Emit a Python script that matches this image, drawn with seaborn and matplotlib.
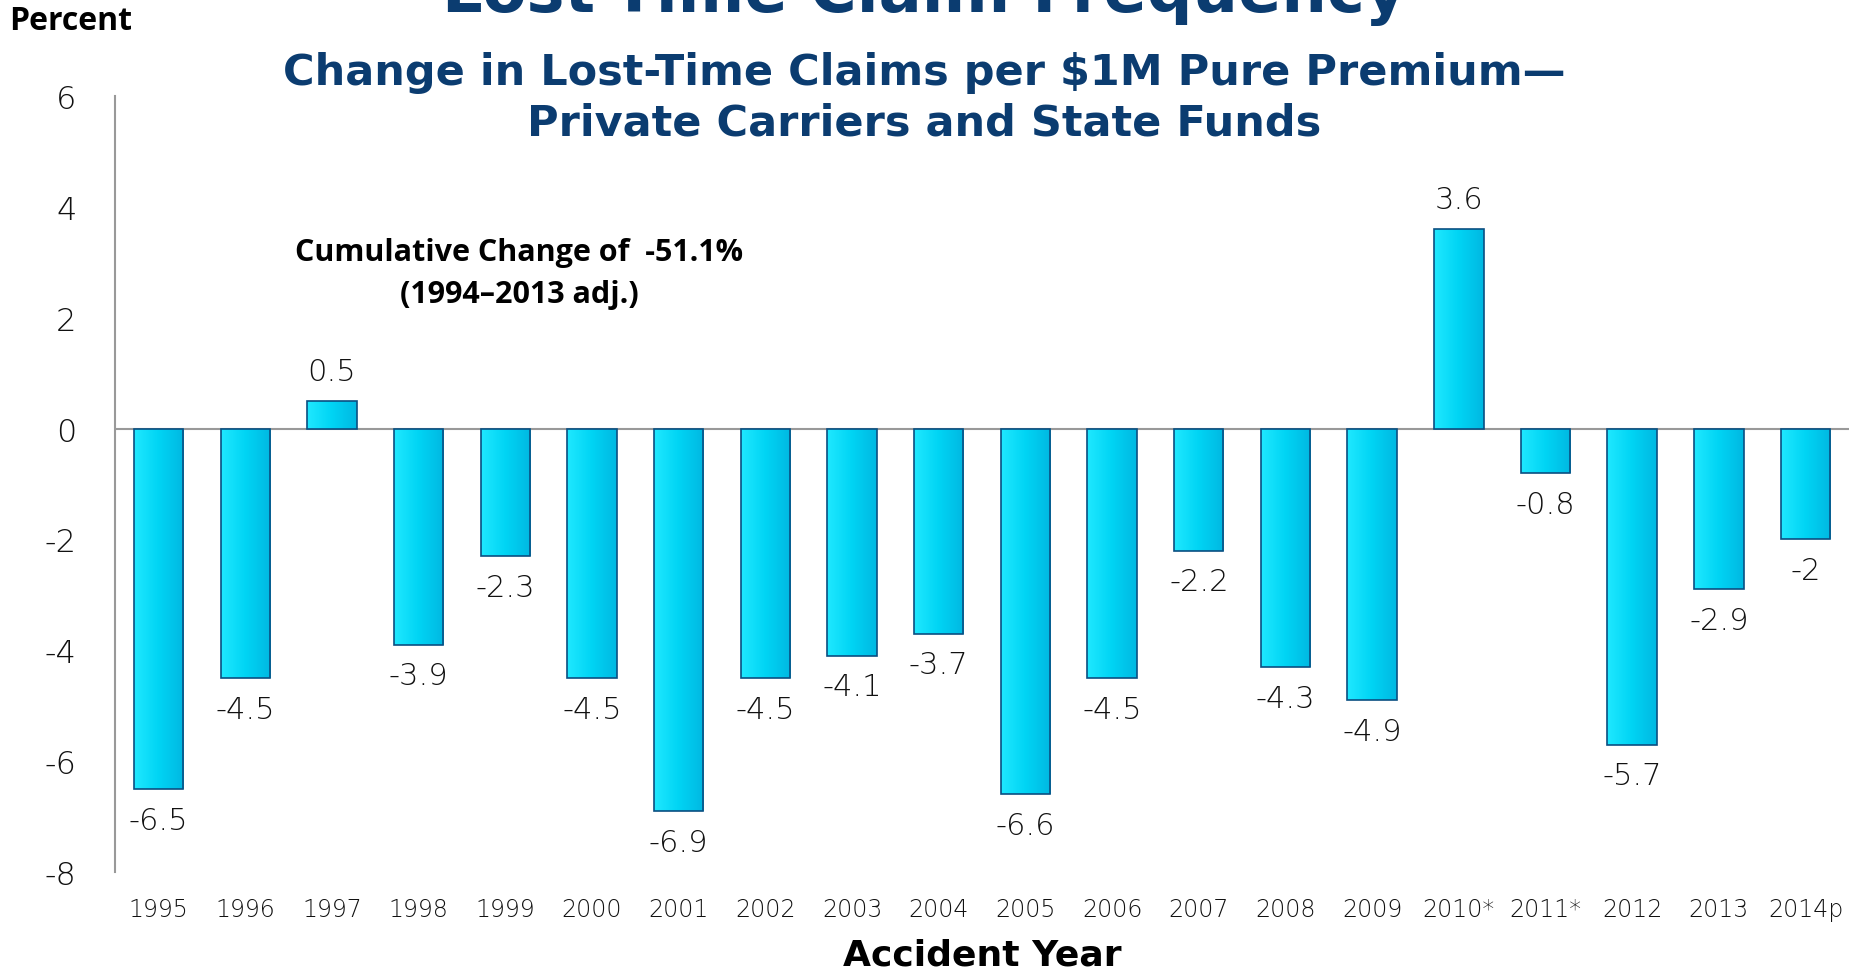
import numpy as np
import pandas as pd
import seaborn as sns
import matplotlib.pyplot as plt
from matplotlib.colors import LinearSegmentedColormap

# Data
years = ['1995', '1996', '1997', '1998', '1999', '2000', '2001', '2002', '2003', '2004',
         '2005', '2006', '2007', '2008', '2009', '2010*', '2011*', '2012', '2013', '2014p']
changes = [-6.5, -4.5, 0.5, -3.9, -2.3, -4.5, -6.9, -4.5, -4.1, -3.7,
           -6.6, -4.5, -2.2, -4.3, -4.9, 3.6, -0.8, -5.7, -2.9, -2.0]
value_labels = ['-6.5', '-4.5', '0.5', '-3.9', '-2.3', '-4.5', '-6.9', '-4.5', '-4.1', '-3.7',
                '-6.6', '-4.5', '-2.2', '-4.3', '-4.9', '3.6', '-0.8', '-5.7', '-2.9', '-2']
yticks = [-8, -6, -4, -2, 0, 2, 4, 6]

df = pd.DataFrame({'year': years, 'change': changes})

sns.set_style('white')
plt.rcParams['font.family'] = ['DejaVu Sans']

navy = '#0B3C70'
txt = '#111111'
num_font = ['DejaVu Sans']
narrow = ['Liberation Sans Narrow', 'Open Sans', 'DejaVu Sans']

fig = plt.figure(figsize=(18.6, 9.7), dpi=100)
ax = fig.add_axes([0.062, 0.1, 0.932, 0.8])

sns.barplot(x='year', y='change', data=df, order=years, color='#08D2F0',
            width=0.57, edgecolor='#0A4F82', linewidth=1.2, ax=ax, zorder=3)

# cyan gradient inside each bar
cmap = LinearSegmentedColormap.from_list('cy', ['#1FE8FF', '#00D4F4', '#00B8E2'])
grad = np.linspace(0, 1, 64).reshape(1, -1)
for p in ax.patches:
    x0, y0 = p.get_x(), p.get_y()
    w, h = p.get_width(), p.get_height()
    im = ax.imshow(grad, extent=[x0, x0 + w, min(y0, y0 + h), max(y0, y0 + h)],
                   cmap=cmap, aspect='auto', zorder=3.5)
    im.set_clip_path(p)
    p.set_zorder(4)
    p.set_facecolor('none')

ax.set_xlim(-0.5, 19.5)
ax.set_ylim(-8, 6)
ax.set_yticks(yticks)
ax.set_yticklabels([str(t) for t in yticks], fontsize=23, color=txt,
                   family=num_font, fontweight='light')
ax.set_xticks(range(len(years)))
ax.set_xticklabels(years, fontsize=17, color=txt, family=num_font, fontweight='light')
ax.tick_params(axis='y', length=0, pad=28)
ax.tick_params(axis='x', length=0, pad=18)

for s in ['top', 'right', 'bottom']:
    ax.spines[s].set_visible(False)
ax.spines['left'].set_color('#999999')
ax.spines['left'].set_linewidth(1.5)
ax.axhline(0, color='#999999', linewidth=1.5, zorder=2)

# value labels
for i, (v, lab) in enumerate(zip(changes, value_labels)):
    if v >= 0:
        ax.annotate(lab, (i, v), xytext=(0, 11), textcoords='offset points',
                    ha='center', va='bottom', fontsize=22, color=txt,
                    family=num_font, fontweight='light')
    else:
        ax.annotate(lab, (i, v), xytext=(0, -12), textcoords='offset points',
                    ha='center', va='top', fontsize=22, color=txt,
                    family=num_font, fontweight='light')

ax.set_xlabel('Accident Year', fontsize=26, fontweight='bold', color='black', labelpad=12)
ax.set_ylabel('')

# titles
fig.text(0.497, 0.9875, 'Lost-Time Claim Frequency', ha='center', va='baseline',
         fontsize=46, fontweight='bold', color=navy)
fig.text(0.497, 0.8985, 'Change in Lost-Time Claims per $1M Pure Premium\u2014\nPrivate Carriers and State Funds',
         ha='center', va='center', fontsize=31, fontweight='bold', color=navy, linespacing=1.27)
fig.text(0.005, 0.978, 'Percent', ha='left', va='center', fontsize=23, fontweight='bold',
         color='black', family=narrow)

ax.text(0.233, 0.772, 'Cumulative Change of  -51.1%\n(1994\u20132013 adj.)', transform=ax.transAxes,
        ha='center', va='center', fontsize=22, fontweight='bold', color='black',
        linespacing=1.52, family=narrow)

plt.savefig('out.png', dpi=100)
